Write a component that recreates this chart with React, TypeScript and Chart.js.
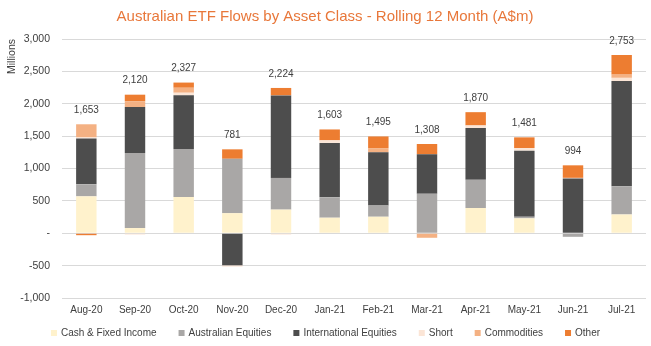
import React, { useEffect, useRef } from "react";
import { Chart, registerables } from "chart.js";

Chart.register(...registerables);

const categories = ["Aug-20", "Sep-20", "Oct-20", "Nov-20", "Dec-20", "Jan-21", "Feb-21", "Mar-21", "Apr-21", "May-21", "Jun-21", "Jul-21"];
const cashFixedIncome = [570, 80, 560, 310, 365, 240, 255, 0, 390, 230, 0, 290];
const australianEquities = [185, 1160, 740, 840, 490, 315, 175, 610, 435, 25, -55, 435];
const internationalEquities = [710, 710, 830, -495, 1274, 840, 820, 610, 800, 1021, 845, 1625];
const shortSeries = [15, -20, 40, -20, -20, 40, 0, 0, 40, 40, 10, 50];
const commodities = [203, 90, 77, 0, 0, 0, 65, -70, 0, 0, 0, 50];
const other = [-30, 100, 80, 146, 115, 168, 180, 158, 205, 165, 194, 303];
const totals = [1653, 2120, 2327, 781, 2224, 1603, 1495, 1308, 1870, 1481, 994, 2753];

const FONT = "'Liberation Sans', Arial, Helvetica, sans-serif";

const totalsPlugin = {
  id: "totalsLabels",
  afterDatasetsDraw(chart: any) {
    const ctx = chart.ctx;
    ctx.save();
    ctx.font = `10px ${FONT}`;
    ctx.fillStyle = "#404040";
    ctx.textAlign = "center";
    ctx.textBaseline = "middle";
    categories.forEach((_, i) => {
      let top = Infinity;
      let x = 0;
      chart.data.datasets.forEach((ds: any, di: number) => {
        const meta = chart.getDatasetMeta(di);
        const el = meta.data[i];
        if (!el) return;
        x = el.x;
        const v = ds.data[i];
        if (v > 0 && el.y < top) top = el.y;
      });
      if (top === Infinity) top = chart.scales.y.getPixelForValue(0);
      ctx.fillText(totals[i].toLocaleString("en-US"), x, top - 14);
    });
    ctx.restore();
  },
};

const legendPlugin = {
  id: "customLegend",
  afterDraw(chart: any) {
    const ctx = chart.ctx;
    const box = 6;
    const gap = 4;
    const spacing = 22;
    ctx.save();
    ctx.font = `10px ${FONT}`;
    const items = chart.data.datasets.map((ds: any) => ({
      text: ds.label,
      color: ds.backgroundColor,
      w: ctx.measureText(ds.label).width,
    }));
    const total = items.reduce((s: number, it: any) => s + box + gap + it.w, 0) + spacing * (items.length - 1);
    let x = (chart.width - total) / 2;
    const y = chart.height - 13;
    ctx.textBaseline = "middle";
    ctx.textAlign = "left";
    items.forEach((it: any) => {
      ctx.fillStyle = it.color;
      ctx.fillRect(x, y - box / 2, box, box);
      ctx.fillStyle = "#404040";
      ctx.fillText(it.text, x + box + gap, y);
      x += box + gap + it.w + spacing;
    });
    ctx.restore();
  },
};

export default function App() {
  const ref = useRef<HTMLCanvasElement>(null);
  useEffect(() => {
    if (!ref.current) return;
    const mk = (label: string, data: number[], color: string) => ({
      label,
      data,
      backgroundColor: color,
      borderWidth: 0,
      stack: "s",
      categoryPercentage: 1,
      barPercentage: 0.42,
    });
    const chart = new Chart(ref.current, {
      type: "bar",
      data: {
        labels: categories,
        datasets: [
          mk("Cash & Fixed Income", cashFixedIncome, "#FFF2CC"),
          mk("Australian Equities", australianEquities, "#A9A7A6"),
          mk("International Equities", internationalEquities, "#4D4D4D"),
          mk("Short", shortSeries, "#FBE5D6"),
          mk("Commodities", commodities, "#F4B183"),
          mk("Other", other, "#ED7D31"),
        ],
      },
      options: {
        animation: false,
        responsive: true,
        maintainAspectRatio: false,
        layout: { padding: { left: 4, right: 5, top: 6, bottom: 24 } },
        plugins: {
          title: {
            display: true,
            text: "Australian ETF Flows by Asset Class - Rolling 12 Month (A$m)",
            color: "#E8773A",
            font: { family: FONT, size: 15, weight: "normal" },
            padding: { top: 2, bottom: 13 },
          },
          legend: { display: false },
          tooltip: { enabled: false },
        },
        scales: {
          x: {
            stacked: true,
            grid: { display: false, drawTicks: false },
            border: { display: false },
            ticks: { color: "#404040", font: { family: FONT, size: 10 }, maxRotation: 0, padding: 6 },
          },
          y: {
            stacked: true,
            min: -1000,
            max: 3000,
            border: { display: false },
            grid: { color: "#D9D9D9", drawTicks: false },
            afterFit: (scale: any) => {
              scale.width = 58;
            },
            ticks: {
              stepSize: 500,
              padding: 12,
              color: "#404040",
              font: { family: FONT, size: 10.5 },
              callback: (v: any) => (Number(v) === 0 ? "-" : Number(v).toLocaleString("en-US")),
            },
            title: {
              display: true,
              text: "Millions",
              align: "end",
              color: "#404040",
              font: { family: FONT, size: 10.5 },
              padding: { top: 2, bottom: 2 },
            },
          },
        },
      },
      plugins: [totalsPlugin, legendPlugin],
    });
    return () => chart.destroy();
  }, []);
  return (
    <div style={{ position: "fixed", left: 0, top: 0, width: 651, height: 346, background: "#fff" }}>
      <canvas ref={ref} />
    </div>
  );
}
